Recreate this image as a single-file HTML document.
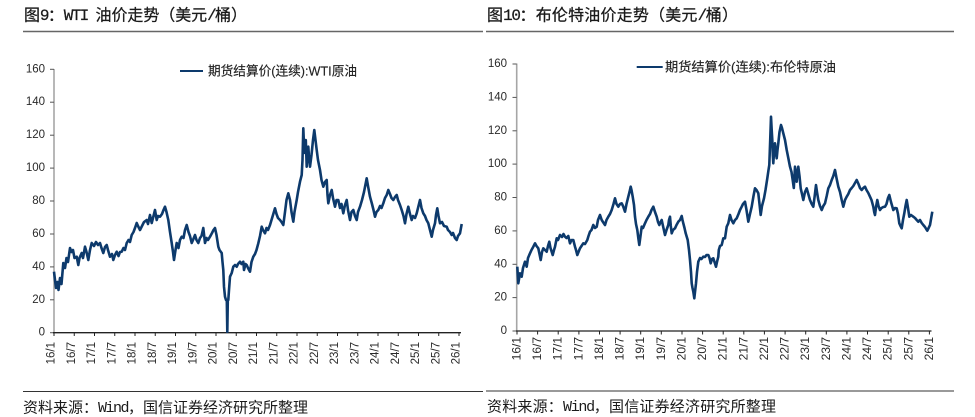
<!DOCTYPE html>
<html><head><meta charset="utf-8"><style>
html,body{margin:0;padding:0;background:#fff;}
svg{display:block;}
.t{font-family:"Liberation Sans","Noto Sans CJK SC",sans-serif;fill:#1a1a1a;stroke:#1a1a1a;stroke-width:0.25px;}
.f{font-family:"Liberation Sans","Noto Sans CJK SC",sans-serif;fill:#1a1a1a;}
.m{font-family:"Liberation Mono",monospace;}
.yl{font-family:"Liberation Sans",sans-serif;font-size:11.5px;fill:#2a2a2a;text-anchor:end;dominant-baseline:central;}
.xl{font-family:"Liberation Sans",sans-serif;font-size:11.5px;fill:#2a2a2a;text-anchor:end;dominant-baseline:central;}
.lg{font-family:"Liberation Sans","Noto Sans CJK SC",sans-serif;font-size:13px;fill:#222;stroke:#222;stroke-width:0.15px;dominant-baseline:central;}
.ser{fill:none;stroke:#0d3a6c;stroke-width:2.6;stroke-linejoin:round;}
</style></head><body>
<svg width="975" height="417" viewBox="0 0 975 417" xmlns="http://www.w3.org/2000/svg">
<!-- titles -->
<text class="t" x="24" y="16" font-size="16" dominant-baseline="central" textLength="223" lengthAdjust="spacing">图<tspan class="m" letter-spacing="-1.6">9</tspan>：<tspan class="m" letter-spacing="-1.6">WTI </tspan>油价走势（美元<tspan class="m" letter-spacing="-1.6">/</tspan>桶）</text>
<text class="t" x="487" y="16" font-size="16" dominant-baseline="central" textLength="251" lengthAdjust="spacing">图<tspan class="m" letter-spacing="-1.6">10</tspan>：布伦特油价走势（美元<tspan class="m" letter-spacing="-1.6">/</tspan>桶）</text>
<line x1="23" y1="31.5" x2="483" y2="31.5" stroke="#666" stroke-width="1.5"/>
<line x1="486" y1="31.5" x2="954" y2="31.5" stroke="#666" stroke-width="1.5"/>
<!-- footers -->
<line x1="23" y1="391.5" x2="483" y2="391.5" stroke="#333" stroke-width="1"/>
<line x1="486" y1="391" x2="954" y2="391" stroke="#333" stroke-width="1"/>
<text class="f" x="23" y="408" font-size="15" dominant-baseline="central" textLength="285" lengthAdjust="spacing">资料来源：<tspan class="m" letter-spacing="-1.5">Wind</tspan>，国信证券经济研究所整理</text>
<text class="f" x="487" y="407" font-size="15" dominant-baseline="central" textLength="289" lengthAdjust="spacing">资料来源：<tspan class="m" letter-spacing="-1.5">Wind</tspan>，国信证券经济研究所整理</text>

<!-- LEFT CHART -->
<g>
<line x1="54" y1="69" x2="54" y2="332.7" stroke="#a6a6a6" stroke-width="1.6"/>
<g stroke="#555" stroke-width="1">
<line x1="50" y1="69.3" x2="54" y2="69.3"/><line x1="50" y1="102.2" x2="54" y2="102.2"/><line x1="50" y1="135.2" x2="54" y2="135.2"/><line x1="50" y1="168.1" x2="54" y2="168.1"/><line x1="50" y1="201" x2="54" y2="201"/><line x1="50" y1="234" x2="54" y2="234"/><line x1="50" y1="266.9" x2="54" y2="266.9"/><line x1="50" y1="299.8" x2="54" y2="299.8"/><line x1="50" y1="332.7" x2="54" y2="332.7"/>
</g>
<g>
<text class="yl" x="45" y="69.3">160</text><text class="yl" x="45" y="102.2">140</text><text class="yl" x="45" y="135.2">120</text><text class="yl" x="45" y="168.1">100</text><text class="yl" x="45" y="201">80</text><text class="yl" x="45" y="234">60</text><text class="yl" x="45" y="266.9">40</text><text class="yl" x="45" y="299.8">20</text><text class="yl" x="45" y="332.7">0</text>
</g>
<line x1="53" y1="332.7" x2="461" y2="332.7" stroke="#222" stroke-width="1.3"/>
<g stroke="#222" stroke-width="1">
<line x1="54" y1="332.7" x2="54" y2="336"/><line x1="74.25" y1="332.7" x2="74.25" y2="336"/><line x1="94.5" y1="332.7" x2="94.5" y2="336"/><line x1="114.75" y1="332.7" x2="114.75" y2="336"/><line x1="135" y1="332.7" x2="135" y2="336"/><line x1="155.25" y1="332.7" x2="155.25" y2="336"/><line x1="175.5" y1="332.7" x2="175.5" y2="336"/><line x1="195.75" y1="332.7" x2="195.75" y2="336"/><line x1="216" y1="332.7" x2="216" y2="336"/><line x1="236.25" y1="332.7" x2="236.25" y2="336"/><line x1="256.5" y1="332.7" x2="256.5" y2="336"/><line x1="276.75" y1="332.7" x2="276.75" y2="336"/><line x1="297" y1="332.7" x2="297" y2="336"/><line x1="317.25" y1="332.7" x2="317.25" y2="336"/><line x1="337.5" y1="332.7" x2="337.5" y2="336"/><line x1="357.75" y1="332.7" x2="357.75" y2="336"/><line x1="378" y1="332.7" x2="378" y2="336"/><line x1="398.25" y1="332.7" x2="398.25" y2="336"/><line x1="418.5" y1="332.7" x2="418.5" y2="336"/><line x1="438.75" y1="332.7" x2="438.75" y2="336"/><line x1="459" y1="332.7" x2="459" y2="336"/>
</g>
<g>
<text class="xl" transform="translate(51.5,342) rotate(-90)">16/1</text>
<text class="xl" transform="translate(71.75,342) rotate(-90)">16/7</text>
<text class="xl" transform="translate(92,342) rotate(-90)">17/1</text>
<text class="xl" transform="translate(112.25,342) rotate(-90)">17/7</text>
<text class="xl" transform="translate(132.5,342) rotate(-90)">18/1</text>
<text class="xl" transform="translate(152.75,342) rotate(-90)">18/7</text>
<text class="xl" transform="translate(173,342) rotate(-90)">19/1</text>
<text class="xl" transform="translate(193.25,342) rotate(-90)">19/7</text>
<text class="xl" transform="translate(213.5,342) rotate(-90)">20/1</text>
<text class="xl" transform="translate(233.75,342) rotate(-90)">20/7</text>
<text class="xl" transform="translate(254,342) rotate(-90)">21/1</text>
<text class="xl" transform="translate(274.25,342) rotate(-90)">21/7</text>
<text class="xl" transform="translate(294.5,342) rotate(-90)">22/1</text>
<text class="xl" transform="translate(314.75,342) rotate(-90)">22/7</text>
<text class="xl" transform="translate(335,342) rotate(-90)">23/1</text>
<text class="xl" transform="translate(355.25,342) rotate(-90)">23/7</text>
<text class="xl" transform="translate(375.5,342) rotate(-90)">24/1</text>
<text class="xl" transform="translate(395.75,342) rotate(-90)">24/7</text>
<text class="xl" transform="translate(416,342) rotate(-90)">25/1</text>
<text class="xl" transform="translate(436.25,342) rotate(-90)">25/7</text>
<text class="xl" transform="translate(456.5,342) rotate(-90)">26/1</text>
</g>
<line x1="180" y1="71" x2="203" y2="71" stroke="#0d3a6c" stroke-width="2"/>
<text class="lg" x="208" y="71" textLength="149" lengthAdjust="spacingAndGlyphs">期货结算价(连续):WTI原油</text>
<polyline class="ser" points="54,271.7 55,280 56,288 57.5,282 58.5,290 60,278 61.5,284 63.3,263 65,268 66.5,258 68,262 70,248 71.5,252 73,250 74.5,258 76.7,256.7 78.3,265 79.5,258 81.7,253 83,258 85,246.7 86.5,252 88.3,260 90,250 91.7,243 94,246 96,242 98,245 100,243 101.5,248 103.3,253 105,247 106.7,245 108,250 110,256.7 112,254 113.3,260 115,255 116.7,251.7 118.5,256 120,252 121.7,251.7 123.5,248 125,250 126.7,243 128.5,240 130,242 131.7,235 133.5,232 135,228 136.7,223 138,226 140,230 142,226 144,222 146.7,220 148,224 150,215 151.7,223 153,218 155,210 156.7,220 158,216 160,216.7 162,214 163.5,210 165,206.7 166.5,212 168.3,220 170,232 171.7,243 173,252 174,260 175.5,250 176.7,243 178.5,248 180,240 181.7,236.7 183.5,238 185,230 186.7,225 188.5,232 190,236 191.7,243 193,240 195,235 196.5,240 198.3,243 200,238 201.5,236 203.3,228 205,243 206.5,238 208,240 210,236.7 212,233 213.5,230 215,228 216.5,235 218.3,246.7 219.5,250 221.7,253 222.5,262 223.3,270 224,286.7 225,296.7 226,300 226.8,300 227.3,331.7 227.8,300 228.3,300 229,290 230,276.7 231.7,273 233.3,266.7 235,265 236.7,266.7 238,264 240,261.7 241.5,264 243.3,261.7 244,270 245.5,264 246.7,265 248,268 250,271.7 251.5,262 253.3,256.7 255,254 256.5,250 258.3,243.3 260,236 261.7,226.7 263,230 265,233.3 266.5,228 268,230 270,225 271.5,220 273,215 275,208.3 276.5,214 278,218 280,220 281.5,222 283.3,225 285,212 286.5,200 288.3,193.3 290,200 291.5,212 293.3,221.7 294.5,212 296.7,200 298,192 300,181.7 301.7,175 302.5,160 303.3,128.3 304,145 305,153 305.8,140 306.7,166.7 307.5,150 308.3,146.7 309.2,160 310,166.7 311.5,155 313,140 314.3,130 315.5,140 316.7,150 318,160 320,170 321.5,180 323.3,186.7 325,182 326.7,180 327.5,195 328.3,203.3 330,195 331.7,190 333,198 335,206.7 336.5,200 338.3,200 340,208 341.5,204 343.3,213.3 345,205 346.7,200 348,210 350,220 351.5,212 353.3,210 355,216 356.7,220 358,212 360,206.7 362,200 364,192 366.7,178.3 368,186 370,196.7 372,204 373.5,210 375,216.7 376.5,212 378.3,210 380,206 381.5,208 383.3,203.3 385,198 386.7,195 388.3,190 390,194 391.5,198 393.3,200 395,197 396.7,195 398,200 400,205 401.7,210 403.5,216 405,223.3 406.5,214 408.3,206.7 410,214 411.7,220 413,216 415,218 416.7,213.3 418,208 420,200 421.5,208 423.3,213.3 425,216 426.5,220 428.3,223.3 430,230 431.7,236.7 433,230 435,223.3 436,215 437.3,208.3 438.5,216 440,223.3 442,222 444,226 446.7,226.7 448,230 450,232 451.7,235 453,233 455,238 456.7,240 458,236 460,233.3 461.7,224"/>
</g>

<!-- RIGHT CHART -->
<g>
<line x1="516.7" y1="63.5" x2="516.7" y2="331" stroke="#a6a6a6" stroke-width="1.6"/>
<g stroke="#555" stroke-width="1">
<line x1="512.5" y1="64" x2="516.7" y2="64"/><line x1="512.5" y1="97.4" x2="516.7" y2="97.4"/><line x1="512.5" y1="130.8" x2="516.7" y2="130.8"/><line x1="512.5" y1="164.1" x2="516.7" y2="164.1"/><line x1="512.5" y1="197.5" x2="516.7" y2="197.5"/><line x1="512.5" y1="230.9" x2="516.7" y2="230.9"/><line x1="512.5" y1="264.3" x2="516.7" y2="264.3"/><line x1="512.5" y1="297.6" x2="516.7" y2="297.6"/><line x1="512.5" y1="331" x2="516.7" y2="331"/>
</g>
<g>
<text class="yl" x="507" y="64">160</text><text class="yl" x="507" y="97.4">140</text><text class="yl" x="507" y="130.8">120</text><text class="yl" x="507" y="164.1">100</text><text class="yl" x="507" y="197.5">80</text><text class="yl" x="507" y="230.9">60</text><text class="yl" x="507" y="264.3">40</text><text class="yl" x="507" y="297.6">20</text><text class="yl" x="507" y="331">0</text>
</g>
<line x1="516" y1="331" x2="931.5" y2="331" stroke="#222" stroke-width="1.3"/>
<g stroke="#222" stroke-width="1">
<line x1="517" y1="331" x2="517" y2="334.5"/><line x1="537.6" y1="331" x2="537.6" y2="334.5"/><line x1="558.2" y1="331" x2="558.2" y2="334.5"/><line x1="578.9" y1="331" x2="578.9" y2="334.5"/><line x1="599.5" y1="331" x2="599.5" y2="334.5"/><line x1="620.1" y1="331" x2="620.1" y2="334.5"/><line x1="640.7" y1="331" x2="640.7" y2="334.5"/><line x1="661.3" y1="331" x2="661.3" y2="334.5"/><line x1="682" y1="331" x2="682" y2="334.5"/><line x1="702.6" y1="331" x2="702.6" y2="334.5"/><line x1="723.2" y1="331" x2="723.2" y2="334.5"/><line x1="743.8" y1="331" x2="743.8" y2="334.5"/><line x1="764.4" y1="331" x2="764.4" y2="334.5"/><line x1="785.1" y1="331" x2="785.1" y2="334.5"/><line x1="805.7" y1="331" x2="805.7" y2="334.5"/><line x1="826.3" y1="331" x2="826.3" y2="334.5"/><line x1="846.9" y1="331" x2="846.9" y2="334.5"/><line x1="867.5" y1="331" x2="867.5" y2="334.5"/><line x1="888.2" y1="331" x2="888.2" y2="334.5"/><line x1="908.8" y1="331" x2="908.8" y2="334.5"/><line x1="929.4" y1="331" x2="929.4" y2="334.5"/>
</g>
<g>
<text class="xl" style="font-size:12px" transform="translate(516.5,337) rotate(-90)">16/1</text>
<text class="xl" style="font-size:12px" transform="translate(537.1,337) rotate(-90)">16/7</text>
<text class="xl" style="font-size:12px" transform="translate(557.7,337) rotate(-90)">17/1</text>
<text class="xl" style="font-size:12px" transform="translate(578.4,337) rotate(-90)">17/7</text>
<text class="xl" style="font-size:12px" transform="translate(599,337) rotate(-90)">18/1</text>
<text class="xl" style="font-size:12px" transform="translate(619.6,337) rotate(-90)">18/7</text>
<text class="xl" style="font-size:12px" transform="translate(640.2,337) rotate(-90)">19/1</text>
<text class="xl" style="font-size:12px" transform="translate(660.8,337) rotate(-90)">19/7</text>
<text class="xl" style="font-size:12px" transform="translate(681.5,337) rotate(-90)">20/1</text>
<text class="xl" style="font-size:12px" transform="translate(702.1,337) rotate(-90)">20/7</text>
<text class="xl" style="font-size:12px" transform="translate(722.7,337) rotate(-90)">21/1</text>
<text class="xl" style="font-size:12px" transform="translate(743.3,337) rotate(-90)">21/7</text>
<text class="xl" style="font-size:12px" transform="translate(763.9,337) rotate(-90)">22/1</text>
<text class="xl" style="font-size:12px" transform="translate(784.6,337) rotate(-90)">22/7</text>
<text class="xl" style="font-size:12px" transform="translate(805.2,337) rotate(-90)">23/1</text>
<text class="xl" style="font-size:12px" transform="translate(825.8,337) rotate(-90)">23/7</text>
<text class="xl" style="font-size:12px" transform="translate(846.4,337) rotate(-90)">24/1</text>
<text class="xl" style="font-size:12px" transform="translate(867,337) rotate(-90)">24/7</text>
<text class="xl" style="font-size:12px" transform="translate(887.7,337) rotate(-90)">25/1</text>
<text class="xl" style="font-size:12px" transform="translate(908.3,337) rotate(-90)">25/7</text>
<text class="xl" style="font-size:12px" transform="translate(928.9,337) rotate(-90)">26/1</text>
</g>
<line x1="636.7" y1="67" x2="662.7" y2="67" stroke="#0d3a6c" stroke-width="2"/>
<text class="lg" x="665" y="67" textLength="171" lengthAdjust="spacingAndGlyphs">期货结算价(连续):布伦特原油</text>
<polyline class="ser" points="517.3,266.7 518.3,283.3 520,273.3 521.7,276.7 523,268 525,261.7 526.7,266.7 528,258 530,253.3 531.5,250 533.3,246.7 535,243.3 536.5,246 538.3,248.3 539.5,254 540.7,260 542,252 543.3,248.3 545,250 546.7,251.7 548,246 549.3,241.7 550.5,248 552.7,255 554,250 555,246.7 556.7,238.3 558,240 560,235 562,237 563.5,234 565,236.7 566.5,238 568.3,236 570,243.3 571.5,240 573.3,240 575,246.7 576,250 577.3,255 578.5,252 580,248.3 581.5,246 583.3,243.3 585,244 587.3,240 588.5,236 590,231.7 591.5,230 593.3,225 595,228 596.7,226.7 598,220 600,215 601.7,220 603,222 605,225 606.5,220 608.3,216.7 610,214 611.7,210 613.5,204 615,198.3 616.5,204 618.3,206.7 620,204 621.7,203.3 623,206 625,211.7 626.5,204 628.3,196.7 629.5,192 630.7,186.7 631.5,190 632.7,196.7 634,205 635,216.7 636,224 637.3,230 638.3,238 639.3,245 640.5,236 641.7,226.7 643,228 645,223.3 646.5,220 648.3,216.7 650,214 651.5,210 653.3,206.7 655,212 656.7,216.7 658,222 659.3,225 660.5,222 661.7,220 663,226 665,235 666.5,230 668.3,225 669,220 670,216.7 670.8,226 671.7,233.3 673,230 675,228.3 676.5,225 678.3,221.7 680,220 681.7,216 682.5,220 683.3,223.3 684.5,228 685.7,233.3 687.7,240 689,250 690,260 691,272 691.7,283.3 692.5,288 693.3,291.7 694.3,298.3 695,292 696,283.3 697,272 698.3,261.7 700,258 701.5,259 703.3,256.7 705,257 706.5,255 708.3,255 709.5,258 710.7,263.3 712,259 713.3,258.3 714.5,262 716,266.7 717,262 718.3,256.7 718.8,250 720,246 721.7,245 723.3,238.3 725,238.3 726.7,226.7 728.3,223.3 730,215 731.5,220 733.3,223.3 735,220 736.7,218.3 738.5,214 740,210 741.7,206.7 743,204 745,201.7 746.5,210 748.3,221.7 750,214 751.7,206.7 753.5,196 755,188.3 756.5,190 758.3,193.3 759.5,204 760.7,215 762,206 764,198.3 765.5,190 767.3,178.3 768.5,170 769.3,165 770.2,140 771,116.7 771.7,130 772.3,140 772.8,155 773.3,163.3 774.2,150 775,143.3 775.8,152 776.7,158.3 777.5,150 778.3,143.3 779.5,132 781,125 782,128 783.3,133.3 785,140 786.7,150 788.3,158 790,166.7 791.5,172 792.7,180 793.8,188 795,166.7 795.8,175 796.7,181.7 797.5,172 798.3,166.7 799.5,176 800.7,188.3 802,194 803.3,200 805,192 806.7,188.3 808.3,194 810,200 811.7,204 813.3,206.7 814.7,196 816,185 817,192 818.3,200 820,206 821.7,210 823.3,206 825,203.3 826.7,196 828.3,188.3 830,185 831.7,180 833.3,176 835,170 836.5,178 838.3,186.7 840,192 841.7,200 843.3,206.7 845,200 846.7,196.7 848.3,194 850,190 851.7,188 853.3,186 855,183 856.7,180 858.5,184 860,188 861.7,190 863.3,188 865,186.7 866.5,190 868.3,193 870,196.7 871.5,200 873.3,206.7 874.2,212 875,215 876.2,206 877.3,200 878.5,206 880,210 881.5,208 883.3,207 885,206.7 886.5,204 888,198 889.3,195 891,202 893.3,210 895,208 896.7,208.3 898,214 899.3,223.3 900.5,226 901.7,228.3 903,220 904.3,213.3 905.5,206 906.7,200 908,208 909.3,216.7 911,215 913.3,216.7 915,218 916.7,220 918.3,221.7 920,220 921.7,223 923.3,225 925,227 926.2,229 927.3,230.7 928.6,228 930,225 931.2,218 932.3,211.7"/>
</g>
</svg>
</body></html>
